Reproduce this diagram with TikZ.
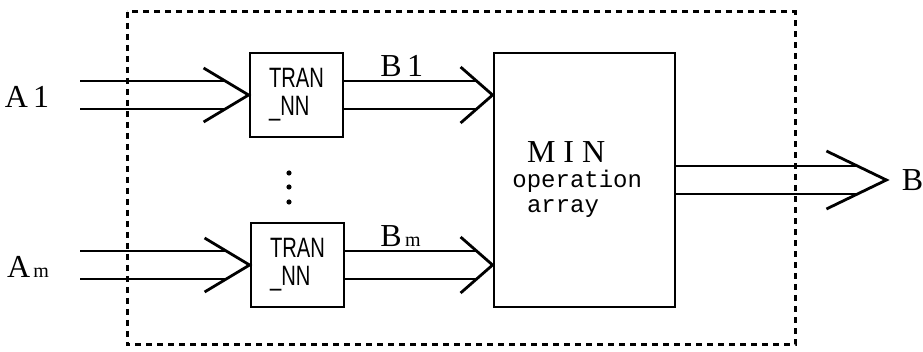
\documentclass[tikz,border=0pt]{standalone}
\usepackage{fontspec}
\setmainfont{Liberation Serif}
\setmonofont{Liberation Mono}
\newfontfamily\tranfont[FakeStretch=0.72]{Liberation Sans}
\usetikzlibrary{calc}
\tikzset{
  tranblock/.style={rectangle, draw, line width=1.4pt,
                    minimum width=46.5pt, minimum height=42pt,
                    align=left, inner sep=0pt,
                    font=\tranfont\fontsize{14}{14}\selectfont},
  minblock/.style={rectangle, draw, line width=1.4pt,
                   minimum width=90.5pt, minimum height=127pt},
  mintext/.style={align=left, inner sep=0pt,
                  font=\ttfamily\fontsize{12}{12.5}\selectfont},
  sigtext/.style={inner sep=0pt, font=\fontsize{16}{16}\selectfont},
  busline/.style={line width=1.4pt},
  frame/.style={line width=1.5pt, dash pattern=on 3pt off 2.5pt},
}

\begin{document}
\begin{tikzpicture}[x=0.5pt, y=-0.5pt]
    \useasboundingbox (0,0) rectangle (923,352);
    % Rahmen
    \draw[frame] (127,12) rectangle (795,345);
    % Bloecke
    \node[tranblock] (tran1) at (296.5,95) {TRAN\\\_NN};
    \node[tranblock] (tran2) at (297.5,265) {TRAN\\\_NN};
    \node[minblock] (min) at (584.5,180) {};
    \node[mintext, anchor=west] (mintxt) at (512,180)
      {\hspace*{7.3pt}{\rmfamily\fontsize{16}{16}\selectfont M I N}\\operation\\\hspace*{7.3pt}array};
    % Punkte
    \foreach \y in {173,187,202}
      \fill (289,\y) circle[radius=1.3pt];
    % Eingaenge
    \node[sigtext] (a1) at (27,97) {A\,1};
    \node[sigtext] (am) at (28,267) {A{\fontsize{10}{10}\selectfont\,m}};
    \coordinate (a1in) at (80,95);
    \coordinate (amin) at (80,265);
    \foreach \src/\dst in {a1in/tran1, amin/tran2} {
      \draw[busline] ($(\src)+(0,-14)$) -- ($(\dst.west)+(-23,-14)$);
      \draw[busline] ($(\src)+(0,14)$) -- ($(\dst.west)+(-23,14)$);
      \draw[busline] ($(\dst.west)+(-45,-27)$) -- (\dst.west) -- ($(\dst.west)+(-45,27)$);
    }
    % Zwischensignale
    \foreach \s in {1,2} {
      \coordinate (tip\s) at (tran\s.east -| min.west);
      \draw[busline] ($(tran\s.east)+(0,-14)$) -- ($(tip\s)+(-16,-14)$);
      \draw[busline] ($(tran\s.east)+(0,14)$) -- ($(tip\s)+(-16,14)$);
      \draw[busline] ($(tip\s)+(-32,-28)$) -- (tip\s) -- ($(tip\s)+(-32,28)$);
    }
    \node[sigtext, anchor=base west] (b1) at (380,77) {B\,1};
    \node[sigtext, anchor=base west] (bm) at (380,247) {B{\fontsize{10}{10}\selectfont\,m}};
    % Ausgang
    \coordinate (outtip) at ($(min.east)+(210,0)$);
    \draw[busline] ($(min.east)+(0,-14)$) -- ($(outtip)+(-29,-14)$);
    \draw[busline] ($(min.east)+(0,14)$) -- ($(outtip)+(-29,14)$);
    \draw[busline] ($(outtip)+(-60,-29)$) -- (outtip) -- ($(outtip)+(-60,29)$);
    \node[sigtext, anchor=west] (bout) at ($(outtip)+(15,0)$) {B};
\end{tikzpicture}
\end{document}
